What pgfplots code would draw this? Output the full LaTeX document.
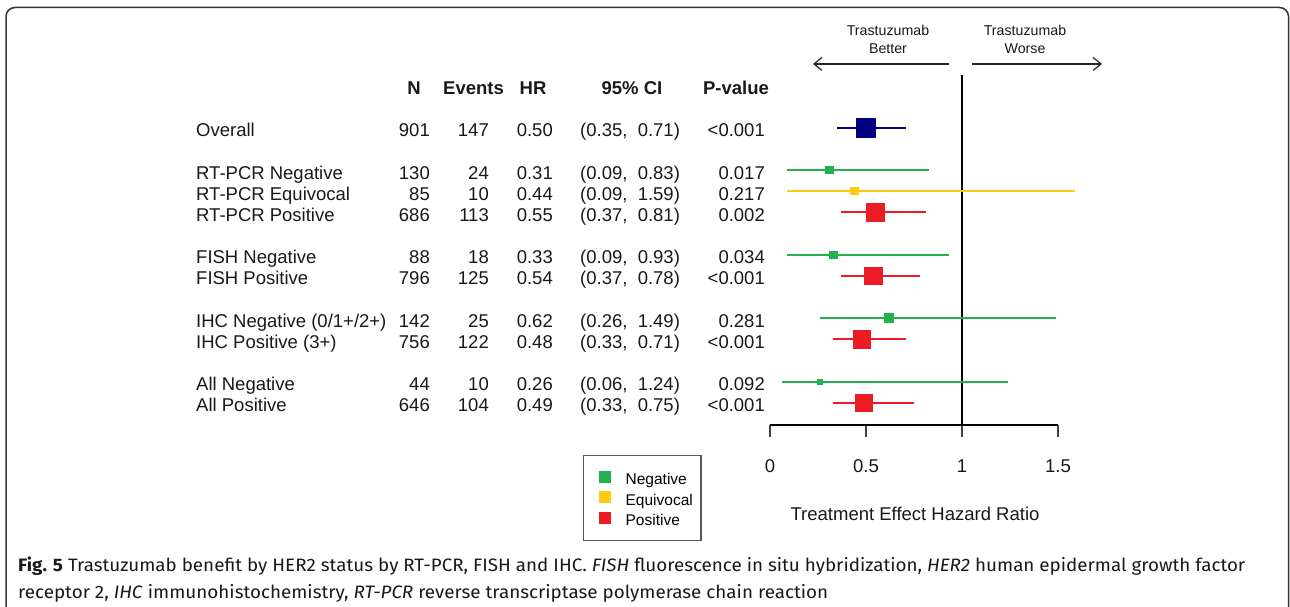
\documentclass[border=0pt]{standalone}
\usepackage{graphicx}
\usepackage{pgfplots}
\pgfplotsset{compat=1.18}
\usepackage{fontspec}
\setmainfont{Liberation Sans}
\newfontfamily\capfont{Fira Sans}
\usetikzlibrary{arrows.meta}
\definecolor{cNavy}{HTML}{000080}
\definecolor{cGreen}{HTML}{22B14C}
\definecolor{cYellow}{HTML}{FFC90E}
\definecolor{cRed}{HTML}{ED1C24}
\newcommand\tf{\fontsize{18.5}{22}\selectfont}
\newcommand\trow[7]{%
 \node[anchor=base west] at (196pt,-#1pt) {#2};
 \node[anchor=base east] at (430pt,-#1pt) {#3};
 \node[anchor=base east] at (489pt,-#1pt) {#4};
 \node[anchor=base east] at (553pt,-#1pt) {#5};
 \node[anchor=base west] at (580pt,-#1pt) {#6};
 \node[anchor=base east] at (765pt,-#1pt) {#7};}
\begin{document}
\begin{tikzpicture}
\useasboundingbox (0,0) rectangle (1290pt,-607pt);
\fill[white] (0,0) rectangle (1290pt,-607pt);
\draw[black!80, line width=1.5pt, rounded corners=9pt] (6pt,-7.5pt) rectangle (1288.5pt,-640pt);

\begin{scope}[every node/.style={inner sep=0pt, font=\tf, text=black!90}]
\node[anchor=base] at (414pt,-95pt) {\bfseries N};
\node[anchor=base] at (473.5pt,-95pt) {\bfseries Events};
\node[anchor=base] at (533pt,-95pt) {\bfseries HR};
\node[anchor=base] at (632pt,-95pt) {\bfseries 95\% CI};
\node[anchor=base] at (736pt,-95pt) {\bfseries P-value};
\trow{137}{Overall}{901}{147}{0.50}{(0.35,\ \ 0.71)}{<0.001}
\trow{179.1}{RT-PCR Negative}{130}{24}{0.31}{(0.09,\ \ 0.83)}{0.017}
\trow{200.3}{RT-PCR Equivocal}{85}{10}{0.44}{(0.09,\ \ 1.59)}{0.217}
\trow{221.4}{RT-PCR Positive}{686}{113}{0.55}{(0.37,\ \ 0.81)}{0.002}
\trow{263.7}{FISH Negative}{88}{18}{0.33}{(0.09,\ \ 0.93)}{0.034}
\trow{284.9}{FISH Positive}{796}{125}{0.54}{(0.37,\ \ 0.78)}{<0.001}
\trow{327.2}{IHC Negative (0/1+/2+)}{142}{25}{0.62}{(0.26,\ \ 1.49)}{0.281}
\trow{348.3}{IHC Positive (3+)}{756}{122}{0.48}{(0.33,\ \ 0.71)}{<0.001}
\trow{390.6}{All Negative}{44}{10}{0.26}{(0.06,\ \ 1.24)}{0.092}
\trow{411.8}{All Positive}{646}{104}{0.49}{(0.33,\ \ 0.75)}{<0.001}
\node[anchor=base] at (915pt,-520pt) {Treatment Effect Hazard Ratio};
\end{scope}

\begin{scope}[every node/.style={inner sep=0pt, font=\fontsize{14.2}{17}\selectfont, text=black!90}]
\node[anchor=base] at (888pt,-36pt) {Trastuzumab};
\node[anchor=base] at (888pt,-54pt) {Better};
\node[anchor=base] at (1025pt,-36pt) {Trastuzumab};
\node[anchor=base] at (1025pt,-54pt) {Worse};
\end{scope}

\begin{axis}[
 at={(770pt,-425pt)}, anchor=south west,
 scale only axis, width=288pt, height=371.2pt,
 xmin=0, xmax=1.5, ymin=-14.05, ymax=3.5,
 clip=false,
 axis x line=bottom, axis y line=none,
 axis line style={-, line width=1.6pt, black},
 xtick={0,0.5,1,1.5}, xticklabels={0,0.5,1,1.5},
 tick align=outside, major tick length=12pt,
 tick style={black!75, line width=1.3pt},
 xticklabel style={font=\tf, text=black!90, yshift=-19pt},
 ytick=\empty,
 legend cell align=left,
 legend image code/.code={\path[draw=none, fill=none] (-7pt,0pt) rectangle (0pt,1pt); \fill[#1, draw=none] (0pt,2pt) rectangle (12pt,14pt);},
 legend style={at={(-0.64931,-0.08082)}, anchor=north west, draw=black!65, line width=1.3pt, fill=white,
   font=\fontsize{15.5}{18}\selectfont, inner xsep=8pt, inner ysep=15pt, row sep=6.5pt, column sep=15pt,
   nodes={inner sep=0pt, text height=14pt, text depth=0pt, anchor=base west}},
]
\addlegendimage{fill=cGreen}\addlegendentry{Negative}
\addlegendimage{fill=cYellow}\addlegendentry{Equivocal}
\addlegendimage{fill=cRed}\addlegendentry{Positive}

\addplot[black, line width=2pt, forget plot] coordinates {(1,-14.05) (1,2.5)};
\addplot[black!85, line width=1.2pt, -{Straight Barb[length=8pt,width=13pt]}, forget plot] coordinates {(0.932,3.02) (0.224,3.02)};
\addplot[black!85, line width=1.2pt, -{Straight Barb[length=8pt,width=13pt]}, forget plot] coordinates {(1.052,3.02) (1.729,3.02)};

% CI lines
\addplot[cNavy, line width=2pt, forget plot] coordinates {(0.35,0) (0.71,0)};
\addplot[cGreen, line width=2pt, forget plot] coordinates {(0.09,-2) (0.83,-2)};
\addplot[cYellow, line width=2pt, forget plot] coordinates {(0.09,-3) (1.59,-3)};
\addplot[cRed, line width=2pt, forget plot] coordinates {(0.37,-4) (0.81,-4)};
\addplot[cGreen, line width=2pt, forget plot] coordinates {(0.09,-6) (0.93,-6)};
\addplot[cRed, line width=2pt, forget plot] coordinates {(0.37,-7) (0.78,-7)};
\addplot[cGreen, line width=2pt, forget plot] coordinates {(0.26,-9) (1.49,-9)};
\addplot[cRed, line width=2pt, forget plot] coordinates {(0.33,-10) (0.71,-10)};
\addplot[cGreen, line width=2pt, forget plot] coordinates {(0.06,-12) (1.24,-12)};
\addplot[cRed, line width=2pt, forget plot] coordinates {(0.33,-13) (0.75,-13)};

% point estimates
\addplot[only marks, mark=square*, mark size=9.5pt, cNavy, mark options={line width=0pt}, forget plot] coordinates {(0.50,0)};
\addplot[only marks, mark=square*, mark size=3.7pt, cGreen, mark options={line width=0pt}, forget plot] coordinates {(0.31,-2)};
\addplot[only marks, mark=square*, mark size=3.6pt, cYellow, mark options={line width=0pt}, forget plot] coordinates {(0.44,-3)};
\addplot[only marks, mark=square*, mark size=8.8pt, cRed, mark options={line width=0pt}, forget plot] coordinates {(0.55,-4)};
\addplot[only marks, mark=square*, mark size=3.7pt, cGreen, mark options={line width=0pt}, forget plot] coordinates {(0.33,-6)};
\addplot[only marks, mark=square*, mark size=8.8pt, cRed, mark options={line width=0pt}, forget plot] coordinates {(0.54,-7)};
\addplot[only marks, mark=square*, mark size=4.5pt, cGreen, mark options={line width=0pt}, forget plot] coordinates {(0.62,-9)};
\addplot[only marks, mark=square*, mark size=8.8pt, cRed, mark options={line width=0pt}, forget plot] coordinates {(0.48,-10)};
\addplot[only marks, mark=square*, mark size=2.4pt, cGreen, mark options={line width=0pt}, forget plot] coordinates {(0.26,-12)};
\addplot[only marks, mark=square*, mark size=8.3pt, cRed, mark options={line width=0pt}, forget plot] coordinates {(0.49,-13)};
\end{axis}

\begin{scope}[every node/.style={inner sep=0pt, text=black!90}]
\node[anchor=base west] at (18pt,-571pt) {\resizebox{1227pt}{\height}{\capfont\fontsize{18}{22}\selectfont \textbf{Fig. 5} Trastuzumab benefit by HER2 status by RT-PCR, FISH and IHC. \textit{FISH} fluorescence in situ hybridization, \textit{HER2} human epidermal growth factor}};
\node[anchor=base west] at (18pt,-598pt) {\resizebox{810pt}{\height}{\capfont\fontsize{18}{22}\selectfont receptor 2, \textit{IHC} immunohistochemistry, \textit{RT-PCR} reverse transcriptase polymerase chain reaction}};
\end{scope}
\end{tikzpicture}
\end{document}
